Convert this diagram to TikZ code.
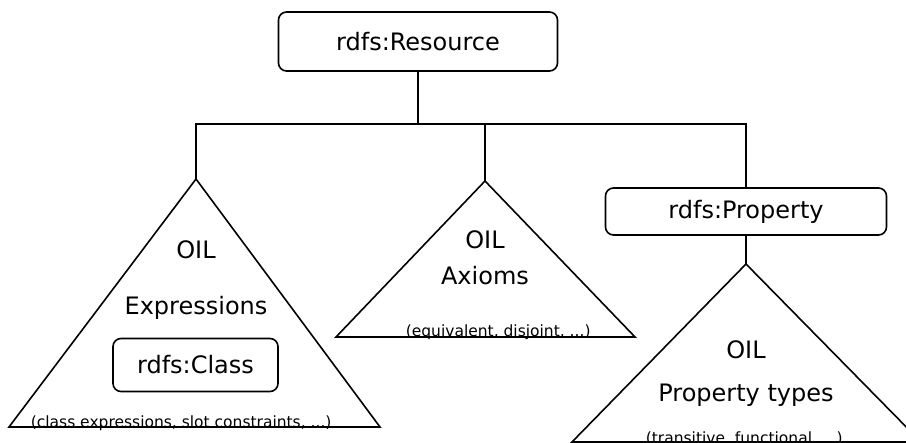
\documentclass[tikz,border=0pt]{standalone}
\usepackage{fontspec}
\setmainfont{DejaVu Sans}
\begin{document}
\begin{tikzpicture}[x=1pt,y=-1pt,
  line width=1.6pt,
  box/.style={draw, rounded corners=8pt, inner sep=0pt, font=\fontsize{24}{28}\selectfont},
  link/.style={draw},
  tri/.style={draw, line join=miter},
  big/.style={font=\fontsize{24}{28}\selectfont, inner sep=0pt, anchor=base},
  small/.style={font=\fontsize{15.5}{18}\selectfont, inner sep=0pt, anchor=base west}
]
\useasboundingbox (0,0) rectangle (906,443);
\clip (0,0) rectangle (906,443);

% boxes
\node[box, minimum width=279pt, minimum height=59pt] (res) at (418,41.5) {rdfs:Resource};
\node[box, minimum width=281pt, minimum height=47pt] (prop) at (746,211.5) {rdfs:Property};

% triangle corners
\coordinate (apexL) at (196,179);
\coordinate (baseLl) at (9,427);
\coordinate (baseLr) at (380,427);
\coordinate (apexM) at (485,181);
\coordinate (baseMl) at (336,337);
\coordinate (baseMr) at (635,337);
\coordinate (apexR) at (746,264);
\coordinate (baseRl) at (572,442);
\coordinate (baseRr) at (921,442);
\coordinate (bus) at (418,124);

% triangles
\draw[tri] (apexL) -- (baseLl) -- (baseLr) -- cycle;
\draw[tri] (apexM) -- (baseMl) -- (baseMr) -- cycle;
\draw[tri] (apexR) -- (baseRl) -- (baseRr) -- cycle;

% connectors
\draw[link] (res.south) -- (bus);
\draw[link] (apexL) -- (apexL |- bus) -- (prop.north |- bus) -- (prop.north);
\draw[link] (apexM) -- (apexM |- bus);
\draw[link] (prop.south) -- (apexR);

% left triangle
\node[big] (oilL) at (196,259) {OIL};
\node[big] (exprL) at (196,315) {Expressions};
\node[box, minimum width=165pt, minimum height=53pt] (cls) at (195.5,365) {rdfs:Class};
\node[small] (noteL) at (30,428) {(class expressions, slot constraints, ...)};

% middle triangle
\node[big] (oilM) at (485,249) {OIL};
\node[big] (axM) at (485,285) {Axioms};
\node[small] (noteM) at (405,337) {(equivalent, disjoint, ...)};

% right triangle
\node[big] (oilR) at (746,359) {OIL};
\node[big] (ptR) at (746,402) {Property types};
\node[small] (noteR) at (645,444) {(transitive, functional, ...)};
\end{tikzpicture}
\end{document}
